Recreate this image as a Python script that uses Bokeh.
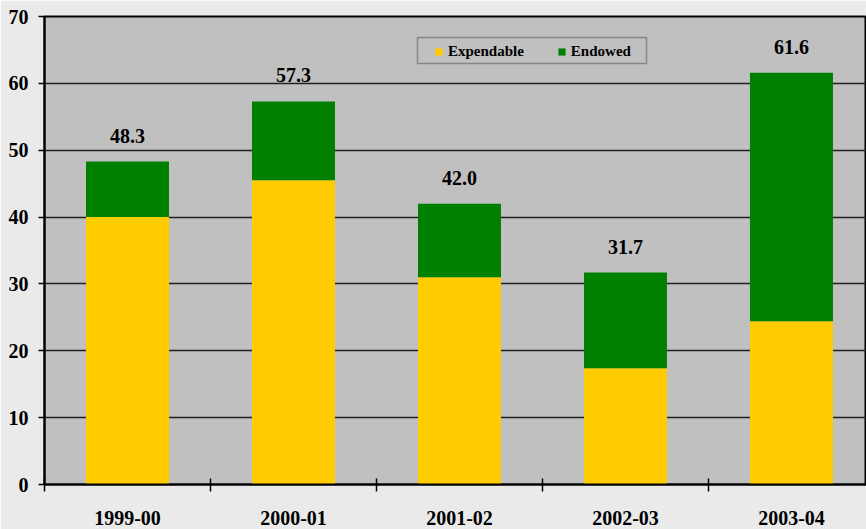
from bokeh.plotting import figure
from bokeh.models import (ColumnDataSource, Range1d, FixedTicker, Legend, LegendItem,
                          BoxAnnotation, LabelSet)
from bokeh.embed import file_html
from bokeh.resources import INLINE

# ---- data ----
years = ["1999-00", "2000-01", "2001-02", "2002-03", "2003-04"]
expendable = [40.0, 45.5, 31.0, 17.4, 24.4]
totals = [48.3, 57.3, 42.0, 31.7, 61.6]
endowed = [round(t - e, 1) for t, e in zip(totals, expendable)]
y_ticks = [0, 10, 20, 30, 40, 50, 60, 70]

FONT = "Liberation Serif"
YELLOW = "#FFCC00"
GREEN = "#008000"

xpos = [i + 0.5 for i in range(len(years))]
src = ColumnDataSource(dict(x=xpos, Expendable=expendable, Endowed=endowed,
                            total=totals, label=[f"{t:.1f}" for t in totals]))

p = figure(width=866, height=529, output_backend="svg", toolbar_location=None,
           x_range=Range1d(0, 4.952), y_range=Range1d(0, 70),
           min_border_left=44, min_border_right=0, min_border_top=16, min_border_bottom=45)
p.background_fill_color = "#C0C0C0"
p.border_fill_color = "#EAEAEA"
p.outline_line_color = "black"
p.outline_line_width = 2

r = p.vbar_stack(["Expendable", "Endowed"], x="x", width=0.5, source=src,
                 color=[YELLOW, GREEN], line_color=None)

labels = LabelSet(x="x", y="total", text="label", source=src, text_align="center",
                  text_baseline="alphabetic", y_offset=19,
                  text_font=FONT, text_font_style="bold", text_font_size="20px",
                  text_color="black")
p.add_layout(labels)

# axes
p.xaxis.ticker = FixedTicker(ticks=xpos, minor_ticks=list(range(len(years) + 1)))
p.xaxis.major_label_overrides = {x: y for x, y in zip(xpos, years)}
p.xaxis.major_tick_out = 0
p.xaxis.major_tick_in = 0
p.xaxis.minor_tick_in = 6
p.xaxis.minor_tick_out = 7
p.xaxis.minor_tick_line_color = "black"
p.xaxis.minor_tick_line_width = 1.5
p.xaxis.major_label_standoff = 19
p.yaxis.ticker = FixedTicker(ticks=y_ticks)
p.yaxis.major_tick_out = 6
p.yaxis.major_tick_in = 0
p.yaxis.major_label_standoff = 10
p.yaxis.minor_tick_line_color = None
for ax in (p.xaxis, p.yaxis):
    ax.axis_line_color = "black"
    ax.axis_line_width = 2
    ax.major_tick_line_color = "black"
    ax.major_tick_line_width = 1.5
    ax.major_label_text_font = FONT
    ax.major_label_text_font_style = "bold"
    ax.major_label_text_font_size = "20px"
    ax.major_label_text_color = "black"

p.xgrid.grid_line_color = None
p.ygrid.ticker = FixedTicker(ticks=y_ticks)
p.ygrid.grid_line_color = "#202020"
p.ygrid.grid_line_width = 1.5

# legend
legend = Legend(items=[LegendItem(label="Expendable", renderers=[r[0]]),
                       LegendItem(label="Endowed", renderers=[r[1]])],
                orientation="horizontal", location=(390, 424),
                padding=0, margin=0, spacing=33, label_standoff=5,
                glyph_width=9, glyph_height=9,
                label_text_font=FONT, label_text_font_style="bold",
                label_text_font_size="15px", label_text_color="black",
                border_line_color=None, background_fill_alpha=0)
p.add_layout(legend)
p.add_layout(BoxAnnotation(left=373, right=602, top=447, bottom=421,
                           left_units="screen", right_units="screen",
                           top_units="screen", bottom_units="screen",
                           fill_alpha=0, line_color="black", line_width=1.5))

open("out.html", "w").write(file_html(p, INLINE))
